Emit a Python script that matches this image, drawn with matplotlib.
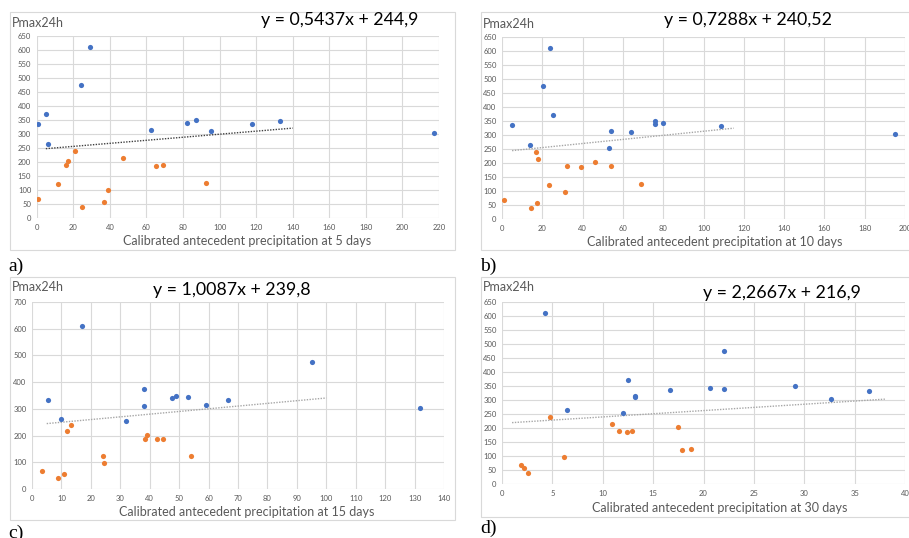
#!/usr/bin/env python3
"""
Pmax24h vs calibrated antecedent precipitation (5, 10, 15, 30 days).
Four Excel-style scatter panels with a linear trendline each.
"""

import matplotlib.pyplot as plt
from matplotlib.patches import Rectangle
import numpy as np

plt.rcParams["font.family"] = ["Lato", "DejaVu Sans"]

W, H = 909, 538

BLUE = "#4472C4"
ORANGE = "#ED7D31"
GRID = "#D9D9D9"
TXT = "#595959"

# ---------------------------------------------------------------------
# Data
# ---------------------------------------------------------------------
# a) 5 days
a_blue_x = [0.7, 5, 6, 24, 29, 62.5, 82, 87, 95.5, 118, 133, 217]
a_blue_y = [335, 373, 263, 476, 610, 316, 340, 351, 310, 335, 346, 302]
a_orange_x = [0.5, 11.5, 16, 17, 21, 25, 37, 39, 47, 65, 69, 92.5]
a_orange_y = [68, 122, 190, 203, 238, 40, 58, 99, 216, 187, 189, 125]

# b) 10 days
b_blue_x = [5, 14, 20.5, 24, 25.5, 53, 54, 64, 76, 76, 80, 108.5, 195]
b_blue_y = [335, 263, 476, 610, 373, 254, 316, 309, 350, 340, 342, 333, 302]
b_orange_x = [1, 14.5, 17, 17.5, 18, 23.5, 31.5, 32.5, 39, 46, 54, 69]
b_orange_y = [68, 40, 238, 57, 216, 122, 97, 189, 186, 202, 188, 125]

# c) 15 days
c_blue_x = [5.5, 10, 17, 32, 38, 38.2, 47.5, 49, 53, 59, 66.5, 95, 132]
c_blue_y = [335, 263, 610, 254, 373, 310, 340, 350, 343, 316, 333, 476, 302]
c_orange_x = [3.3, 9, 11, 12, 13.2, 24, 24.6, 38.5, 39, 42.5, 44.5, 54]
c_orange_y = [68, 40, 57, 216, 238, 122, 98, 188, 202, 188, 188, 125]

# d) 30 days
d_blue_x = [4.3, 6.5, 12, 12.5, 13.2, 13.2, 16.7, 20.6, 22, 22, 29.1, 32.7, 36.4]
d_blue_y = [610, 263, 254, 373, 315, 309, 335, 343, 476, 340, 350, 302, 333]
d_orange_x = [1.9, 2.2, 2.6, 4.8, 6.2, 10.9, 11.6, 12.4, 12.9, 17.5, 17.9, 18.8]
d_orange_y = [68, 57, 40, 238, 97, 216, 189, 186, 189, 203, 122, 125]

# trendlines (slope, intercept, x range)
trend_a = (0.5437, 244.9, 5, 140)
trend_b = (0.7288, 240.52, 5, 115)
trend_c = (1.0087, 239.8, 5, 100)
trend_d = (2.2667, 216.9, 1, 38)

eq_labels = ["y = 0,5437x + 244,9", "y = 0,7288x + 240,52",
             "y = 1,0087x + 239,8", "y = 2,2667x + 216,9"]
day_labels = [5, 10, 15, 30]


def px_rect(x0, y0, x1, y1):
    return [x0 / W, 1 - y1 / H, (x1 - x0) / W, (y1 - y0) / H]


def panel(fig, plot_px, box_px, bx, by, ox, oy, trend, xmax, xstep,
          ymax, ystep, eq, eq_pos, ylab_pos, xlab_pos, days, letter,
          letter_pos, trend_col):
    # outer chart border (behind the axes)
    x0, y0, x1, y1 = box_px
    fig.patches.append(Rectangle((x0 / W, 1 - y1 / H), (x1 - x0) / W,
                                 (y1 - y0) / H, transform=fig.transFigure,
                                 facecolor="white", edgecolor=GRID,
                                 linewidth=0.8, zorder=-1))

    ax = fig.add_axes(px_rect(*plot_px))
    ax.set_xlim(0, xmax)
    ax.set_ylim(0, ymax)
    ax.set_xticks(np.arange(0, xmax + 0.1, xstep))
    ax.set_yticks(np.arange(0, ymax + 0.1, ystep))
    ax.grid(True, color=GRID, linewidth=0.8)
    ax.set_axisbelow(True)
    for s in ax.spines.values():
        s.set_visible(False)
    ax.tick_params(length=0, labelsize=5.5, labelcolor=TXT, pad=4)
    ax.set_facecolor("none")

    ax.scatter(bx, by, s=14, color=BLUE, zorder=3, linewidths=0)
    ax.scatter(ox, oy, s=14, color=ORANGE, zorder=3, linewidths=0)

    m, b, t0, t1 = trend
    tx = np.array([t0, t1])
    ax.plot(tx, m * tx + b, linestyle=(0, (1, 1)), color=trend_col,
            linewidth=1.0, zorder=2)

    fig.text(eq_pos[0] / W, 1 - eq_pos[1] / H, eq, fontsize=12.8,
             ha="center", va="center", color="black")
    fig.text(ylab_pos[0] / W, 1 - ylab_pos[1] / H, "Pmax24h", fontsize=9,
             ha="left", va="center", color=TXT)
    fig.text(xlab_pos[0] / W, 1 - xlab_pos[1] / H,
             "Calibrated antecedent precipitation at %d days" % days,
             fontsize=9, ha="center", va="center", color=TXT)
    fig.text(letter_pos[0] / W, 1 - letter_pos[1] / H, letter,
             fontsize=14, ha="left", va="center", color="black",
             family="Liberation Serif")
    return ax


def main():
    fig = plt.figure(figsize=(W / 100, H / 100), dpi=100)

    panel(fig, (36.7, 36, 439, 218), (10, 12, 455, 250),
          a_blue_x, a_blue_y, a_orange_x, a_orange_y, trend_a,
          220, 20, 650, 50, eq_labels[0], (340, 20), (12, 23), (247, 241),
          day_labels[0], "a)", (8, 266), "#404040")

    panel(fig, (502, 37, 905, 219), (481, 12, 915, 250),
          b_blue_x, b_blue_y, b_orange_x, b_orange_y, trend_b,
          200, 20, 650, 50, eq_labels[1], (748, 20), (483, 24), (715, 242),
          day_labels[1], "b)", (480, 266), "#A6A6A6")

    panel(fig, (32, 302, 444, 489), (10, 277, 455, 520),
          c_blue_x, c_blue_y, c_orange_x, c_orange_y, trend_c,
          140, 10, 700, 100, eq_labels[2], (232, 290), (12, 287), (247, 512),
          day_labels[2], "c)", (8, 533), "#A6A6A6")

    panel(fig, (502, 302, 905, 484), (481, 277, 915, 517),
          d_blue_x, d_blue_y, d_orange_x, d_orange_y, trend_d,
          40, 5, 650, 50, eq_labels[3], (782, 293), (483, 287), (720, 508),
          day_labels[3], "d)", (480, 528), "#A6A6A6")

    fig.savefig("out.png", dpi=100, facecolor="white")


if __name__ == "__main__":
    main()
